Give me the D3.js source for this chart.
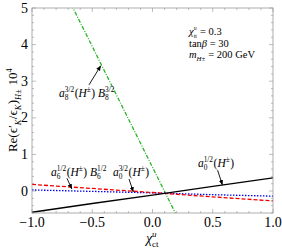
<!DOCTYPE html>
<html><head><meta charset="utf-8">
<script src="https://cdn.jsdelivr.net/npm/d3@7"></script>
<style>body{margin:0;background:#fff}svg{display:block}text{font-family:"Liberation Serif","Times New Roman",serif;fill:#000;white-space:pre}</style>
</head><body><svg id="c" width="282" height="250"></svg>
<script>
// ---- data ----
const chiValues = [-1.0, -0.5, 0.0, 0.5, 1.0];
const a0half = [-0.58, -0.34, -0.11, 0.13, 0.36];   // black solid
const a6half = [0.18, 0.07, -0.04, -0.16, -0.27];    // red dashed
const a0threeHalf = [0.03, -0.01, -0.05, -0.10, -0.14]; // blue dotted
const a8threeHalf = [7.24, 3.95, 0.65, -2.65, -5.94];   // green dash-dot
const xTicks = [-1.0, -0.5, 0.0, 0.5, 1.0];
const xTickLabels = ["\u22121.0", "\u22120.5", "0.0", "0.5", "1.0"];
const yTicks = [0, 1, 2, 3, 4, 5];

const svg = d3.select("#c");
const L = 32, R = 273, T = 8, B = 213;
const x = d3.scaleLinear().domain([-1, 1]).range([L, R]);
const y = d3.scaleLinear().domain([-0.6, 5]).range([B, T]);
const NB = "\u00a0";

// frame ticks
const tickCol = "#a0a0a0";
const gT = svg.append("g");
const xMinor = d3.range(-1, 1.0001, 0.1);
const yMinor = d3.range(-0.6, 5.0001, 0.2);
function isMajor(v, arr){ return arr.some(a => Math.abs(a - v) < 1e-6); }
xMinor.forEach(v => {
  const len = isMajor(v, xTicks) ? 4 : 2;
  gT.append("line").attr("x1", x(v)).attr("x2", x(v)).attr("y1", B).attr("y2", B - len).attr("stroke", tickCol).attr("stroke-width", 0.7);
  gT.append("line").attr("x1", x(v)).attr("x2", x(v)).attr("y1", T).attr("y2", T + len).attr("stroke", tickCol).attr("stroke-width", 0.7);
});
yMinor.forEach(v => {
  const len = isMajor(v, yTicks) ? 4 : 2;
  gT.append("line").attr("y1", y(v)).attr("y2", y(v)).attr("x1", L).attr("x2", L + len).attr("stroke", tickCol).attr("stroke-width", 0.7);
  gT.append("line").attr("y1", y(v)).attr("y2", y(v)).attr("x1", R).attr("x2", R - len).attr("stroke", tickCol).attr("stroke-width", 0.7);
});

// clip + curves
svg.append("clipPath").attr("id", "clip").append("rect").attr("x", L).attr("y", T).attr("width", R - L).attr("height", B - T);
const line = d3.line().x((d, i) => x(chiValues[i])).y(d => y(d));
const gL = svg.append("g").attr("clip-path", "url(#clip)");
gL.append("path").attr("d", line(a8threeHalf)).attr("fill", "none").attr("stroke", "#2ab52a").attr("stroke-width", 1.3).attr("stroke-dasharray", "4,1.5,1,1.5");
gL.append("path").attr("d", line(a0threeHalf)).attr("fill", "none").attr("stroke", "#0000ee").attr("stroke-width", 1.3).attr("stroke-dasharray", "1.5,1.5");
gL.append("path").attr("d", line(a6half)).attr("fill", "none").attr("stroke", "#ee0000").attr("stroke-width", 1.3).attr("stroke-dasharray", "4,2");
gL.append("path").attr("d", line(a0half)).attr("fill", "none").attr("stroke", "#000").attr("stroke-width", 1.3);

// frame
svg.append("rect").attr("x", L).attr("y", T).attr("width", R - L).attr("height", B - T).attr("fill", "none").attr("stroke", "#999").attr("stroke-width", 0.8);

// tick labels
xTicks.forEach((v, i) => svg.append("text").attr("x", x(v)).attr("y", 227).attr("text-anchor", "middle").attr("font-size", 14).text(xTickLabels[i]));
yTicks.forEach(v => svg.append("text").attr("x", L - 4).attr("y", y(v) + 4.5).attr("text-anchor", "end").attr("font-size", 14).text(v));

// rich text helper
function rich(parent, x0, y0, tokens, size, anchor, opts) {
  opts = opts || {};
  const g = parent.append("g");
  let cx = 0;
  const small = size * (opts.small || 0.64);
  const supDy = opts.supDy || 0.42, subDy = opts.subDy || 0.3;
  tokens.forEach(tk => {
    if (tk.t !== undefined) {
      const el = g.append("text").attr("x", cx).attr("y", 0).attr("font-size", size).attr("font-style", tk.it ? "italic" : "normal").text(tk.t);
      cx += el.node().getComputedTextLength();
    } else {
      let w = 0;
      if (tk.sup !== undefined) {
        const e = g.append("text").attr("x", cx).attr("y", -size * supDy).attr("font-size", small).attr("font-style", tk.supIt ? "italic" : "normal").text(tk.sup);
        w = Math.max(w, e.node().getComputedTextLength());
      }
      if (tk.sub !== undefined) {
        const e = g.append("text").attr("x", cx).attr("y", size * subDy).attr("font-size", small).attr("font-style", tk.subIt ? "italic" : "normal").text(tk.sub);
        w = Math.max(w, e.node().getComputedTextLength());
      }
      cx += w + (tk.gap || 0.5);
    }
  });
  let shift = 0;
  if (anchor === "middle") shift = -cx / 2;
  if (anchor === "end") shift = -cx;
  g.attr("transform", `translate(${x0 + shift},${y0})`);
  return g;
}

// axis labels
rich(svg, x(0), 243, [{t: "\u03c7", it: true}, {sup: "u", supIt: true, sub: "ct"}], 14, "middle");
const yl = svg.append("g").attr("transform", "translate(17,110) rotate(-90)");
rich(yl, 0, 0, [{t: "Re(\u03f5\u2032"}, {sub: "K", subIt: true}, {t: "/\u03f5"}, {sub: "K", subIt: true}, {t: ")"}, {sub: "H\u00b1", subIt: true}, {t: NB + "10"}, {sup: "4"}], 13, "middle");

// parameter block
rich(svg, 189, 35, [{t: "\u03c7", it: true}, {sup: "u", supIt: true, sub: "tt"}, {t: NB + "=" + NB + "0.3"}], 10.5, "start", {small: 0.56, supDy: 0.5, subDy: 0.26});
rich(svg, 189, 47, [{t: "tan"}, {t: "\u03b2", it: true}, {t: NB + "=" + NB + "30"}], 10.5, "start");
rich(svg, 189, 57.5, [{t: "m", it: true}, {sub: "H\u00b1", subIt: true}, {t: NB + "=" + NB + "200" + NB + "GeV"}], 10.5, "start");

// annotations
const defs = svg.append("defs");
defs.append("marker").attr("id", "ah").attr("viewBox", "0 0 10 10").attr("refX", 9).attr("refY", 5)
  .attr("markerWidth", 6).attr("markerHeight", 6).attr("orient", "auto")
  .append("path").attr("d", "M0,1 L10,5 L0,9 Z").attr("fill", "#000");
function arrow(c1, v1, c2, v2) {
  svg.append("line").attr("x1", x(c1)).attr("y1", y(v1)).attr("x2", x(c2)).attr("y2", y(v2)).attr("stroke", "#000").attr("stroke-width", 0.9).attr("marker-end", "url(#ah)");
}
rich(svg, 87, 97, [{t: "a", it: true}, {sup: "3/2", sub: "8"}, {t: "("}, {t: "H", it: true}, {sup: "\u00b1"}, {t: ")" + NB}, {t: "B", it: true}, {sup: "3/2", sub: "8"}], 11.5, "middle");
arrow(-0.527, 2.90, -0.43, 3.42);
rich(svg, 79, 176, [{t: "a", it: true}, {sup: "1/2", sub: "6"}, {t: "("}, {t: "H", it: true}, {sup: "\u00b1"}, {t: ")" + NB}, {t: "B", it: true}, {sup: "1/2", sub: "6"}], 11.5, "middle");
arrow(-0.71, 0.35, -0.67, 0.06);
rich(svg, 131, 176, [{t: "a", it: true}, {sup: "3/2", sub: "0"}, {t: "("}, {t: "H", it: true}, {sup: "\u00b1"}, {t: ")"}], 11.5, "middle");
arrow(-0.195, 0.33, -0.16, -0.02);
rich(svg, 216, 167, [{t: "a", it: true}, {sup: "1/2", sub: "0"}, {t: "("}, {t: "H", it: true}, {sup: "\u00b1"}, {t: ")"}], 11.5, "middle");
arrow(0.54, 0.57, 0.58, 0.17);
</script></body></html>
